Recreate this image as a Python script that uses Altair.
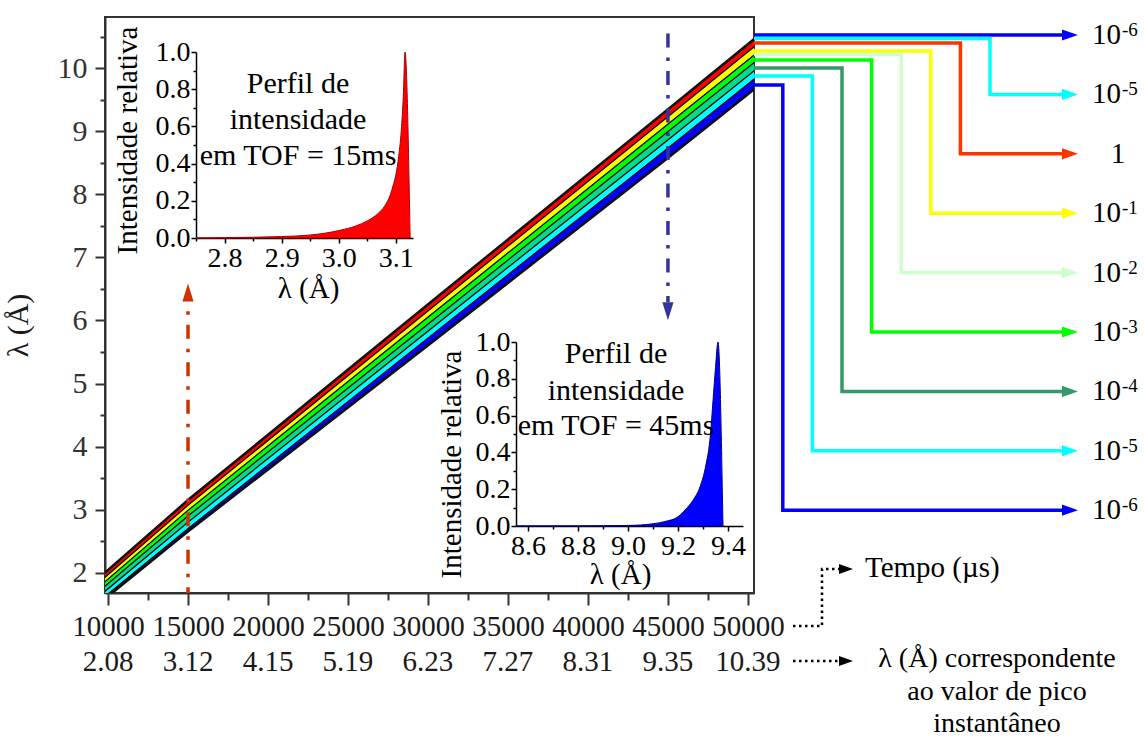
import altair as alt
import pandas as pd

FONT = "Liberation Serif"
W, H = 649, 576            # plot area of the main panel
LEFT, TOP = 105, 17        # where the plot area sits on the page
PAGE_W, PAGE_H = 1144, 740

# ---------------------------------------------------------------- main axes
tof_ticks = [10000, 15000, 20000, 25000, 30000, 35000, 40000, 45000, 50000]
tof_minor = [12500, 17500, 22500, 27500, 32500, 37500, 42500, 47500]
peak_lambda = ["2.08", "3.12", "4.15", "5.19", "6.23", "7.27", "8.31", "9.35", "10.39"]
lam_ticks = [2, 3, 4, 5, 6, 7, 8, 9, 10]
lam_minor = [2.5, 3.5, 4.5, 5.5, 6.5, 7.5, 8.5, 9.5, 10.5]
TOF_DOMAIN = [9810, 50380]
LAM_DOMAIN = [1.68, 10.81]

# ------------------------------------------------ contour band (λ vs TOF)
band_tof = [9500, 15000, 30000, 45000, 50700]
band_upper = [1.92, 3.14, 6.24, 9.33, 10.51]
level_names = ["1", "10^-1", "10^-2", "10^-3", "10^-4", "10^-5"]
level_colors = ["#ff0000", "#ffff00", "#00ff00", "#00dd88", "#00ffff", "#0000ff"]
# depth (Å) of the lower edge of each level below the upper edge of the band
depth_1 = [0.06, 0.07, 0.09, 0.10, 0.11]
depth_2 = [0.13, 0.15, 0.19, 0.22, 0.24]
depth_3 = [0.20, 0.24, 0.30, 0.34, 0.36]
depth_4 = [0.28, 0.34, 0.41, 0.47, 0.49]
depth_5 = [0.36, 0.44, 0.52, 0.60, 0.62]
depth_6 = [0.38, 0.47, 0.62, 0.74, 0.77]

# ------------------------------------------- dash-dot markers at 15 / 45 ms
marker_tof = [15000, 45000]
marker_from = [1.55, 10.55]
marker_to = [6.30, 6.29]
marker_colors = ["#cc3300", "#333399"]

# --------------------------------------------------- intensity profiles
prof15_lam = [2.75, 2.80, 2.85, 2.90, 2.95, 3.00, 3.03, 3.05, 3.07, 3.08,
              3.09, 3.095, 3.10, 3.105, 3.11, 3.113, 3.116, 3.125]
prof15_int = [0.0, 0.002, 0.004, 0.008, 0.016, 0.040, 0.065, 0.092, 0.135, 0.17,
              0.23, 0.28, 0.34, 0.44, 0.60, 0.76, 1.0, 0.0]
prof45_lam = [8.552, 8.80, 9.00, 9.10, 9.15, 9.20, 9.23, 9.26, 9.29, 9.31,
              9.33, 9.34, 9.35, 9.36, 9.38]
prof45_int = [0.0, 0.0005, 0.003, 0.012, 0.025, 0.05, 0.09, 0.14, 0.22, 0.32,
              0.50, 0.68, 0.86, 1.0, 0.0]
prof_ticks_y = [0.0, 0.2, 0.4, 0.6, 0.8, 1.0]
prof_minor_y = [0.1, 0.3, 0.5, 0.7, 0.9]
prof15_ticks = [2.8, 2.9, 3.0, 3.1]
prof15_minor = [2.75, 2.85, 2.95, 3.05]
prof45_ticks = [8.6, 8.8, 9.0, 9.2, 9.4]
prof45_minor = [8.7, 8.9, 9.1, 9.3]

# ------------------------------------------------ right-hand level key
key_colors = ["#0000ff", "#00ffff", "#ff3300", "#ffff00", "#ccffcc",
              "#00ff00", "#339966", "#00ffff", "#0000ff"]
key_base = ["10", "10", "1", "10", "10", "10", "10", "10", "10"]
key_exp = ["-6", "-5", "", "-1", "-2", "-3", "-4", "-5", "-6"]

# ---------------------------------------------------------------- scales
X_T = alt.Scale(domain=TOF_DOMAIN, nice=False, zero=False)
Y_L = alt.Scale(domain=LAM_DOMAIN, nice=False, zero=False)
# page-pixel scales for the annotations drawn around the plot
PX = alt.Scale(domain=[0, PAGE_W], range=[-LEFT, PAGE_W - LEFT], nice=False, zero=False)
PY = alt.Scale(domain=[0, PAGE_H], range=[-TOP, PAGE_H - TOP], nice=False, zero=False)


def px(field="px"):
    return alt.X(f"{field}:Q", scale=PX, axis=None)


def py(field="py"):
    return alt.Y(f"{field}:Q", scale=PY, axis=None)


# ------------------------------------------------------------ band data
depths = [depth_1, depth_2, depth_3, depth_4, depth_5, depth_6]
rows = []
for k, name in enumerate(level_names):
    for i, t in enumerate(band_tof):
        top = band_upper[i] - (depths[k - 1][i] if k > 0 else 0.0)
        bot = band_upper[i] - depths[k][i]
        rows.append({"tof": t, "level": name, "lo": bot, "hi": top})
stripe_df = pd.DataFrame(rows)
edge_df = pd.DataFrame({
    "tof": band_tof,
    "lo": [u - d - 0.04 for u, d in zip(band_upper, depth_6)],
    "hi": [u + 0.04 for u in band_upper],
})

edge = alt.Chart(edge_df).mark_area(clip=True, color="#111111").encode(
    x=alt.X("tof:Q", scale=X_T, axis=None),
    y=alt.Y("lo:Q", scale=Y_L, axis=None),
    y2="hi:Q",
)

stripes = alt.Chart(stripe_df).mark_area(
    clip=True, stroke="#111111", strokeWidth=1.2, strokeJoin="round"
).encode(
    x=alt.X("tof:Q", scale=X_T, axis=alt.Axis(
        orient="bottom", values=tof_ticks, format="d", tickSize=12, tickWidth=2,
        tickColor="#333333", domainColor="#333333", domainWidth=2,
        labelFontSize=29, labelColor="#1a1a1a", labelPadding=7,
        labelFlush=False, labelOverlap=False, title=None)),
    y=alt.Y("lo:Q", scale=Y_L, axis=alt.Axis(
        orient="left", values=lam_ticks, format="d", tickSize=10, tickWidth=2,
        tickColor="#333333", domainColor="#333333", domainWidth=2,
        labelFontSize=30, labelColor="#333333", labelPadding=8,
        labelFlush=False, labelOverlap=False,
        title="λ (Å)", titleFontSize=30, titleFontWeight="normal", titleColor="#1a1a1a",
        titleAngle=270, titleX=18 - LEFT, titleY=325 - TOP,
        titleAlign="center", titleBaseline="middle")),
    y2="hi:Q",
    color=alt.Color("level:N", scale=alt.Scale(domain=level_names, range=level_colors), legend=None),
)

# minor ticks of the main axes
minor_main = alt.Chart(stripe_df).mark_point(opacity=0).encode(
    x=alt.X("tof:Q", scale=X_T, axis=alt.Axis(
        orient="bottom", values=tof_minor, tickSize=7, tickWidth=2, tickColor="#333333",
        labels=False, domain=False, title=None)),
    y=alt.Y("lo:Q", scale=Y_L, axis=alt.Axis(
        orient="left", values=lam_minor, tickSize=5, tickWidth=2, tickColor="#333333",
        labels=False, domain=False, title=None)),
)

# peak wavelength printed under each TOF label
lam_row = alt.Chart(pd.DataFrame({"tof": tof_ticks, "lab": peak_lambda})).mark_text(
    font=FONT, fontSize=29, baseline="middle", color="#1a1a1a"
).encode(
    x=alt.X("tof:Q", scale=X_T, axis=None),
    y=alt.value(662 - TOP),
    text="lab:N",
)

# dash-dot markers with arrowheads
marker_df = pd.DataFrame({"tof": marker_tof, "a": marker_from, "b": marker_to,
                          "m": ["up", "down"]})
mcol = alt.Color("m:N", scale=alt.Scale(domain=["up", "down"], range=marker_colors), legend=None)
marker_lines = alt.Chart(marker_df).mark_rule(
    strokeWidth=3.5, strokeDash=[14, 10, 3.5, 10], clip=True
).encode(
    x=alt.X("tof:Q", scale=X_T, axis=None),
    y=alt.Y("a:Q", scale=Y_L, axis=None),
    y2="b:Q",
    color=mcol,
)
head_up = alt.Chart(marker_df[marker_df.m == "up"]).mark_point(
    shape="M0,-2L0.62,0L-0.62,0Z", size=324, filled=True, opacity=1, strokeWidth=0
).encode(x=alt.X("tof:Q", scale=X_T, axis=None), y=alt.Y("b:Q", scale=Y_L, axis=None), color=mcol)
head_down = alt.Chart(marker_df[marker_df.m == "down"]).mark_point(
    shape="M0,2L0.62,0L-0.62,0Z", size=324, filled=True, opacity=1, strokeWidth=0
).encode(x=alt.X("tof:Q", scale=X_T, axis=None), y=alt.Y("b:Q", scale=Y_L, axis=None), color=mcol)


# ---------------------------------------------------------- inset panels
def inset(lam, inten, xdom, xrange, yrange, ticks, minor, fill, edge_col,
          title_x, title_y, ytitle_x, ytitle_y):
    df = pd.DataFrame({"lam": lam, "inten": inten, "base": [0.0] * len(lam)})
    xs = alt.Scale(domain=xdom, range=xrange, nice=False, zero=False)
    ys = alt.Scale(domain=[0, 1], range=yrange, nice=False, zero=False)
    x_off = yrange[0] - H
    y_off = -xrange[0]
    common = dict(tickColor="black", tickWidth=1.5, domainColor="black", domainWidth=1.5,
                  labelColor="black", labelFontSize=28, labelFlush=False, labelOverlap=False)
    area = alt.Chart(df).mark_area(
        color=fill, stroke=edge_col, strokeWidth=1, interpolate="monotone"
    ).encode(
        x=alt.X("lam:Q", scale=xs, axis=alt.Axis(
            orient="bottom", offset=x_off, values=ticks, format=".1f", tickSize=5,
            labelPadding=1, title="λ (Å)", titleFontSize=29, titleFontWeight="normal",
            titleColor="black", titleX=title_x, titleY=title_y,
            titleAlign="center", titleBaseline="middle", **common)),
        y=alt.Y("inten:Q", scale=ys, axis=alt.Axis(
            orient="left", offset=y_off, values=prof_ticks_y, format=".1f", tickSize=5,
            labelPadding=1, title="Intensidade relativa", titleFontSize=29,
            titleFontWeight="normal", titleColor="black", titleAngle=270,
            titleX=ytitle_x, titleY=ytitle_y, titleAlign="center", titleBaseline="middle",
            **common)),
        y2="base:Q",
    )
    minor_ax = alt.Chart(df).mark_point(opacity=0).encode(
        x=alt.X("lam:Q", scale=xs, axis=alt.Axis(
            orient="bottom", offset=x_off, values=minor, tickSize=3, tickWidth=1.5,
            tickColor="black", labels=False, domain=False, title=None)),
        y=alt.Y("inten:Q", scale=ys, axis=alt.Axis(
            orient="left", offset=y_off, values=prof_minor_y, tickSize=3, tickWidth=1.5,
            tickColor="black", labels=False, domain=False, title=None)),
    )
    return [area, minor_ax]


inset15 = inset(prof15_lam, prof15_int, [2.75, 3.13], [196 - LEFT, 413 - LEFT],
                [238 - TOP, 52 - TOP], prof15_ticks, prof15_minor, "#ff0000", "#aa0000",
                308 - LEFT, 50, 127 - 196, 140 - TOP)
inset45 = inset(prof45_lam, prof45_int, [8.552, 9.46], [516 - LEFT, 743 - LEFT],
                [526 - TOP, 342 - TOP], prof45_ticks, prof45_minor, "#0000ff", "#000080",
                620 - LEFT, 48, 451 - 516, 464 - TOP)

# --------------------------------------------------- texts and leaders (page px)
texts = pd.DataFrame({
    "px": [298, 298, 298, 616, 616, 616],
    "py": [93, 129, 165, 363, 400, 435],
    "txt": ["Perfil de", "intensidade", "em TOF = 15ms",
            "Perfil de", "intensidade", "em TOF = 45ms"],
})
inset_text = alt.Chart(texts).mark_text(
    font=FONT, fontSize=30, align="center", baseline="alphabetic", color="black"
).encode(x=px(), y=py(), text="txt:N")

side_text = alt.Chart(pd.DataFrame({
    "px": [997, 997, 997], "py": [667, 700, 732],
    "txt": ["λ (Å) correspondente", "ao valor de pico", "instantâneo"],
})).mark_text(font=FONT, fontSize=28, align="center", baseline="alphabetic",
              color="black").encode(x=px(), y=py(), text="txt:N")
tempo_text = alt.Chart(pd.DataFrame({"px": [865], "py": [577], "txt": ["Tempo (µs)"]})).mark_text(
    font=FONT, fontSize=29, align="left", baseline="alphabetic", color="black"
).encode(x=px(), y=py(), text="txt:N")

# dotted leaders from the two label rows
dot_df = pd.DataFrame({
    "g": ["t", "t", "t", "t", "l", "l"],
    "k": [0, 1, 2, 3, 0, 1],
    "px": [793, 822, 822, 840, 793, 840],
    "py": [626, 626, 569, 569, 661, 661],
})
dot_lines = alt.Chart(dot_df).mark_line(
    color="black", strokeWidth=2.5, strokeDash=[2.5, 3.5], strokeCap="butt"
).encode(x=px(), y=py(), detail="g:N", order="k:Q")
dot_heads = alt.Chart(pd.DataFrame({"px": [839, 839], "py": [569, 661]})).mark_point(
    shape="M0,-0.7L2,0L0,0.7Z", size=196, filled=True, opacity=1, color="black", strokeWidth=0
).encode(x=px(), y=py())

# coloured leaders from the band edge to the level key
frame_x, arrow_base = 754, 1062
start_y = [35, 38.5, 43, 51, 54.5, 60, 68, 76, 85]
label_y = [35 + 59.4 * i for i in range(9)]
turn_x = [None] + [990 - 29.6 * (i - 1) for i in range(1, 9)]
lead_rows = []
for i in range(9):
    pts = [(frame_x, start_y[i])]
    if turn_x[i] is not None:
        pts += [(turn_x[i], start_y[i]), (turn_x[i], label_y[i])]
    pts.append((arrow_base, label_y[i]))
    for k, (x, y) in enumerate(pts):
        lead_rows.append({"id": f"L{i}", "k": k, "px": x, "py": y})
lead_df = pd.DataFrame(lead_rows)
lead_ids = [f"L{i}" for i in range(9)]
lead_col = alt.Color("id:N", scale=alt.Scale(domain=lead_ids, range=key_colors), legend=None)
leaders = alt.Chart(lead_df).mark_line(
    strokeWidth=3.5, strokeCap="butt", strokeJoin="miter"
).encode(x=px(), y=py(), color=lead_col, detail="id:N", order="k:Q")
key_heads = alt.Chart(pd.DataFrame({"id": lead_ids, "px": [arrow_base] * 9, "py": label_y})).mark_point(
    shape="M0,-0.7L2,0L0,0.7Z", size=256, filled=True, opacity=1, strokeWidth=0
).encode(x=px(), y=py(), color=lead_col)

key_df = pd.DataFrame({"base": key_base, "exp": key_exp, "py": label_y})
key_df["pyb"] = key_df["py"] + 9
key_df["pye"] = key_df["py"] + 1
key_df["px"] = 1121
key_df["pxe"] = 1122
key_df["pxc"] = 1118
key_tens = alt.Chart(key_df[key_df.exp != ""]).mark_text(
    font=FONT, fontSize=29, align="right", baseline="alphabetic", color="black"
).encode(x=px(), y=py("pyb"), text="base:N")
key_exps = alt.Chart(key_df[key_df.exp != ""]).mark_text(
    font=FONT, fontSize=19, align="left", baseline="alphabetic", color="black"
).encode(x=px("pxe"), y=py("pye"), text="exp:N")
key_one = alt.Chart(key_df[key_df.exp == ""]).mark_text(
    font=FONT, fontSize=29, align="center", baseline="alphabetic", color="black"
).encode(x=px("pxc"), y=py("pyb"), text="base:N")

layers = [edge, stripes, minor_main, lam_row, marker_lines, head_up, head_down,
          *inset15, *inset45, inset_text, side_text, tempo_text,
          dot_lines, dot_heads, leaders, key_heads, key_tens, key_exps, key_one]

chart = alt.layer(*layers).resolve_scale(
    x="independent", y="independent", color="independent"
).resolve_axis(
    x="independent", y="independent"
).properties(
    width=W, height=H,
    padding={"left": LEFT, "top": TOP, "right": PAGE_W - LEFT - W, "bottom": PAGE_H - TOP - H},
    autosize=alt.AutoSizeParams(type="none"),
    background="white",
).configure_view(
    stroke="#333333", strokeWidth=2
).configure_axis(
    grid=False, labelFont=FONT, titleFont=FONT
).configure_text(font=FONT)

chart.save("out.html", embed_options={"renderer": "svg", "actions": False})
